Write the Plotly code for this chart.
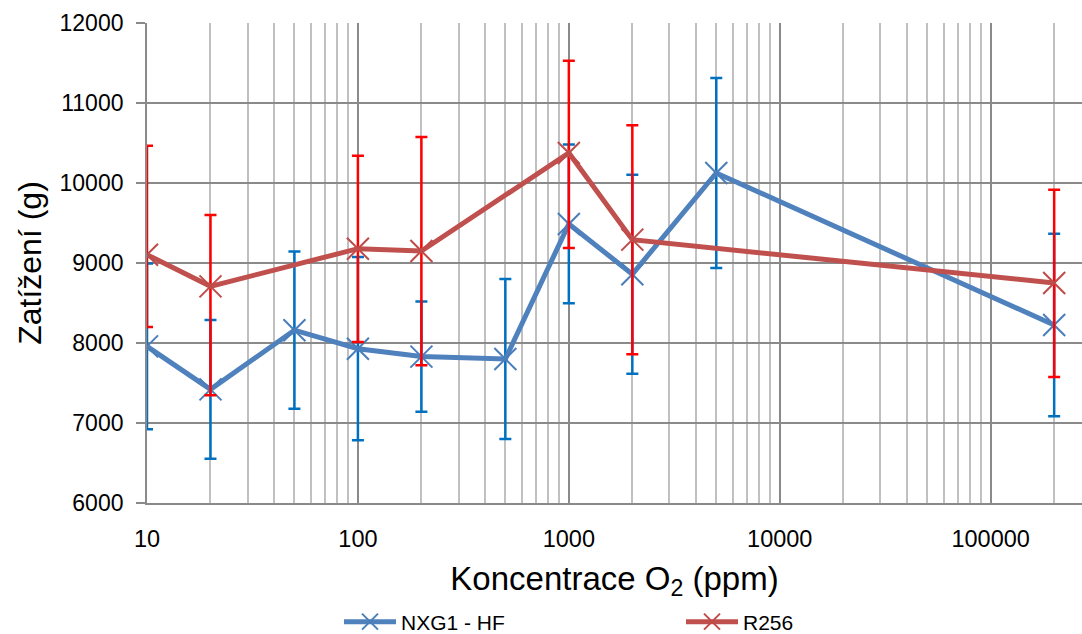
import plotly.graph_objects as go
import math

# NXG1 - HF series
x_nxg = [10, 20, 50, 100, 200, 500, 1000, 2000, 5000, 200000]
y_nxg = [7958, 7420, 8160, 7929, 7830, 7800, 9488, 8860, 10125, 8225]
err_nxg = [1035, 866, 983, 1146, 688, 1000, 992, 1243, 1187, 1140]

# R256 series
x_r256 = [10, 20, 100, 200, 1000, 2000, 200000]
y_r256 = [9104, 8708, 9179, 9150, 10375, 9292, 8750]
err_r256_plus = [1363, 892, 1163, 1425, 1154, 1429, 1167]
err_r256_minus = [904, 1362, 1166, 1429, 1187, 1434, 1175]

x_tickvals = [10, 100, 1000, 10000, 100000]
x_ticktext = ["10", "100", "1000", "10000", "100000"]
y_tickvals = [6000, 7000, 8000, 9000, 10000, 11000, 12000]
y_ticktext = ["6000", "7000", "8000", "9000", "10000", "11000", "12000"]

FONT = "Liberation Sans"
MAJOR = "#8a8a8a"
MINOR = "#c0c0c0"

fig = go.Figure()
fig.add_trace(go.Scatter(
    x=x_nxg, y=y_nxg, name="NXG1 - HF", mode="lines+markers",
    line=dict(color="#4F81BD", width=5),
    marker=dict(symbol="x-thin", size=22, line=dict(color="#4A7EBB", width=2)),
    error_y=dict(type="data", array=err_nxg, visible=True,
                 color="#0070C0", thickness=2.5, width=6),
))
fig.add_trace(go.Scatter(
    x=x_r256, y=y_r256, name="R256", mode="lines+markers",
    line=dict(color="#C0504D", width=5),
    marker=dict(symbol="x-thin", size=22, line=dict(color="#BE4B48", width=2)),
    error_y=dict(type="data", symmetric=False, array=err_r256_plus,
                 arrayminus=err_r256_minus, visible=True,
                 color="#FF0000", thickness=2.5, width=6),
))

fig.update_layout(
    width=1082, height=634,
    margin=dict(l=147, r=0, t=23, b=131),
    paper_bgcolor="white", plot_bgcolor="white",
    font=dict(family=FONT, color="black"),
    showlegend=True,
    legend=dict(orientation="h", xref="container", yref="container",
                x=339 / 1082, xanchor="left", y=12 / 634, yanchor="middle",
                font=dict(size=21, family=FONT), entrywidth=275, itemwidth=52,
                bgcolor="rgba(0,0,0,0)"),
)
fig.update_xaxes(
    type="log", range=[1, math.log10(271000)], automargin=True,
    tickvals=x_tickvals, ticktext=x_ticktext,
    tickfont=dict(size=23.5, family=FONT), ticks="", ticklabelstandoff=14,
    showgrid=True, gridcolor=MAJOR, gridwidth=1.8,
    minor=dict(dtick="D1", showgrid=True, gridcolor=MINOR, gridwidth=1.8, ticks=""),
    showline=True, linecolor=MAJOR, linewidth=1.8,
    zeroline=False,
    title=dict(text="Koncentrace O<sub>2</sub> (ppm)", font=dict(size=33, family=FONT), standoff=22),
)
fig.update_yaxes(
    range=[6000, 12000], tickvals=y_tickvals, ticktext=y_ticktext, automargin=False,
    tickfont=dict(size=23, family=FONT),
    ticks="outside", ticklen=9, tickcolor=MAJOR, tickwidth=1.8, ticklabelstandoff=8,
    showgrid=True, gridcolor=MAJOR, gridwidth=1.8,
    showline=True, linecolor=MAJOR, linewidth=1.8,
    zeroline=False,
    title=dict(text="Zatížení (g)", font=dict(size=32, family=FONT), standoff=8),
)

fig.write_html(
    "out.html",
    config={"displayModeBar": False},
    post_script="document.body.style.margin='0';document.body.style.overflow='hidden';",
)
